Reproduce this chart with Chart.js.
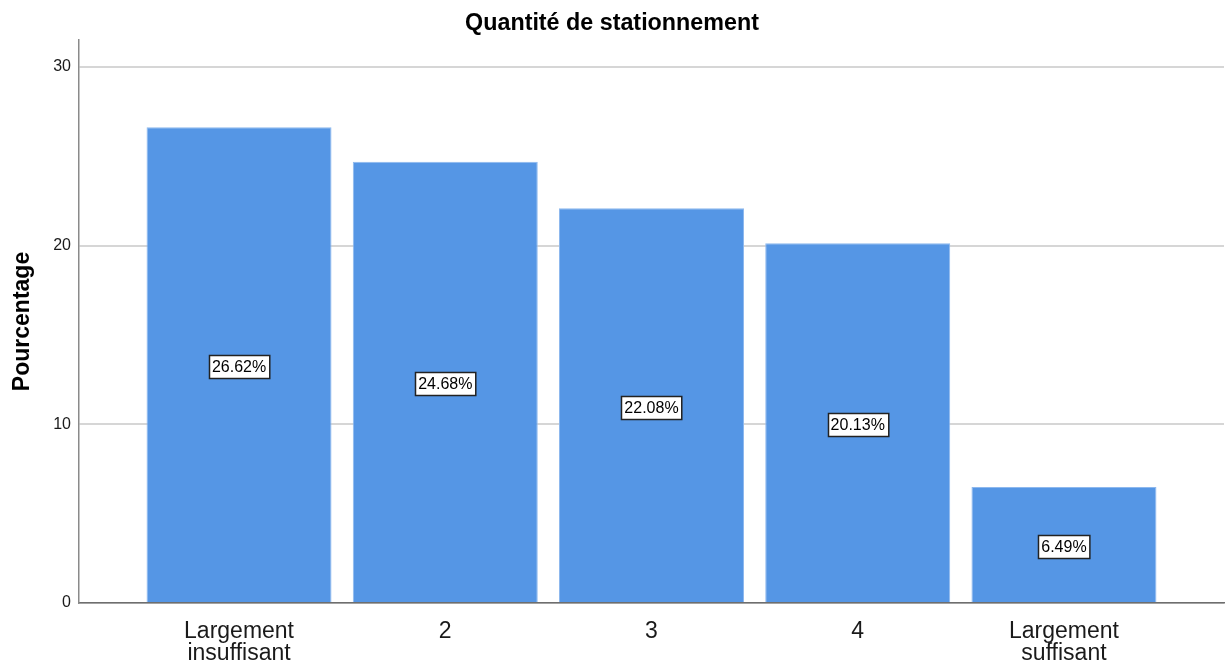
<!DOCTYPE html>
<html>
<head>
<meta charset="utf-8">
<script src="https://cdn.jsdelivr.net/npm/chart.js@4.4.1/dist/chart.umd.min.js"></script>
<style>
  html, body { margin: 0; padding: 0; background: #ffffff; }
  #wrap { width: 1232px; height: 663px; position: relative; }
</style>
</head>
<body>
<div id="wrap"><canvas id="c" width="1232" height="663"></canvas></div>
<script>
const categories = [["Largement", "insuffisant"], "2", "3", "4", ["Largement", "suffisant"]];
const percentages = [26.62, 24.68, 22.08, 20.13, 6.49];
const yTicks = [0, 10, 20, 30];
const chartTitle = "Quantité de stationnement";
const yTitle = "Pourcentage";

const FONT = "'Liberation Sans', Arial, sans-serif";

const labelPlugin = {
  id: 'barLabels',
  afterDatasetsDraw(chart) {
    const ctx = chart.ctx;
    const meta = chart.getDatasetMeta(0);
    ctx.save();
    ctx.font = "16px " + FONT;
    ctx.textAlign = 'center';
    ctx.textBaseline = 'middle';
    meta.data.forEach((bar, i) => {
      const txt = percentages[i].toFixed(2) + '%';
      const cx = bar.x;
      const cy = (bar.y + bar.base) / 2 + 2;
      const w = ctx.measureText(txt).width + 6;
      const h = 23;
      const x0 = Math.round(cx - w / 2) + 0.5;
      const y0 = Math.round(cy - h / 2) + 0.5;
      ctx.fillStyle = '#ffffff';
      ctx.fillRect(x0, y0, w, h);
      ctx.lineWidth = 1.5;
      ctx.strokeStyle = '#222222';
      ctx.strokeRect(x0, y0, w, h);
      ctx.fillStyle = '#000000';
      ctx.fillText(txt, cx, cy + 1);
    });
    ctx.restore();
  }
};

new Chart(document.getElementById('c'), {
  type: 'bar',
  data: {
    datasets: [{
      data: percentages.map((v, i) => ({ x: i, y: v })),
      backgroundColor: '#5596e5',
      borderColor: '#8db8ee',
      borderWidth: 1,
      categoryPercentage: 1,
      barPercentage: 0.897
    }]
  },
  options: {
    responsive: false,
    animation: false,
    devicePixelRatio: 1,
    layout: { padding: { left: 0, right: 8, top: 0, bottom: 0 } },
    plugins: {
      legend: { display: false },
      tooltip: { enabled: false },
      title: {
        display: true,
        text: chartTitle,
        color: '#000000',
        font: { family: FONT, size: 23.3, weight: 'bold' },
        padding: { top: 10, bottom: 2 }
      }
    },
    scales: {
      x: {
        type: 'linear',
        offset: false,
        min: -0.776,
        max: 4.776,
        afterBuildTicks(scale) {
          scale.ticks = categories.map((c, i) => ({ value: i }));
        },
        afterFit(scale) { scale.height = 60; },
        grid: { display: false, drawTicks: false },
        border: { display: true, color: '#6e6e6e', width: 1.5 },
        ticks: {
          autoSkip: false,
          maxRotation: 0,
          padding: 18,
          color: '#1a1a1a',
          font: { family: FONT, size: 23, lineHeight: 0.96 },
          callback: (v) => categories[v]
        }
      },
      y: {
        min: 0,
        max: 31.5,
        afterBuildTicks(scale) {
          scale.ticks = yTicks.map(v => ({ value: v }));
        },
        afterFit(scale) { scale.width = 79; },
        grid: { color: '#d6d6d6', lineWidth: 2, drawTicks: false },
        border: { display: true, color: '#8a8a8a', width: 1.5 },
        ticks: {
          padding: 8,
          color: '#1a1a1a',
          font: { family: FONT, size: 16 },
          callback: (v) => v
        },
        title: {
          display: true,
          text: yTitle,
          color: '#000000',
          font: { family: FONT, size: 23, weight: 'bold' },
          padding: { top: 9, bottom: 0 }
        }
      }
    }
  },
  plugins: [labelPlugin]
});
</script>
</body>
</html>
